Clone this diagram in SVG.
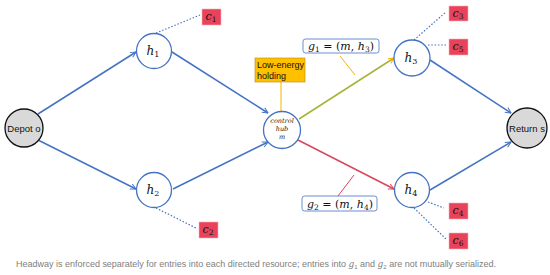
<svg xmlns="http://www.w3.org/2000/svg" width="550" height="275" viewBox="0 0 550 275">
<style>
.node{fill:#fff;stroke:#4472C4;stroke-width:1.3}
.term{fill:#d9d9d9;stroke:#111;stroke-width:1.3}
.edge{stroke:#4472C4;stroke-width:1.5;fill:none}
.dot{stroke:#4472C4;stroke-width:1.2;stroke-dasharray:1.5 1.8;fill:none}
.math{font-family:"DejaVu Serif","Liberation Serif",serif;font-style:italic;fill:#111}
.sans{font-family:"Liberation Sans",Arial,sans-serif}
.cbox{fill:#e8435a;stroke:#f4b0b8;stroke-width:0.6}
.cap{font-family:"Liberation Sans",Arial,sans-serif;fill:#808080}
.capm{font-family:"DejaVu Serif","Liberation Serif",serif;font-style:italic;fill:#808080}
</style>
<defs>
<marker id="ab" viewBox="0 0 10 10" refX="9" refY="5" markerWidth="7" markerHeight="7" orient="auto" markerUnits="userSpaceOnUse"><path d="M1,1 L9,5 L1,9" fill="none" stroke="#4472C4" stroke-width="1.4"/></marker>
<marker id="ay" viewBox="0 0 10 10" refX="9" refY="5" markerWidth="7" markerHeight="7" orient="auto" markerUnits="userSpaceOnUse"><path d="M1,1 L9,5 L1,9" fill="none" stroke="#f0b400" stroke-width="1.4"/></marker>
<marker id="ar" viewBox="0 0 10 10" refX="9" refY="5" markerWidth="7" markerHeight="7" orient="auto" markerUnits="userSpaceOnUse"><path d="M1,1 L9,5 L1,9" fill="none" stroke="#e0405a" stroke-width="1.4"/></marker>
</defs>
<g id="connectors">
<line class="edge" x1="38" y1="114" x2="136" y2="52" marker-end="url(#ab)"/>
<line class="edge" x1="172" y1="52" x2="268" y2="113" marker-end="url(#ab)"/>
<line class="edge" x1="38" y1="140" x2="136" y2="189" marker-end="url(#ab)"/>
<line class="edge" x1="173" y1="189" x2="268" y2="142" marker-end="url(#ab)"/>
<line x1="299" y1="119" x2="394" y2="58" stroke="#a8b43a" stroke-width="1.6" marker-end="url(#ay)"/>
<line x1="298" y1="140" x2="394" y2="189" stroke="#d9485f" stroke-width="1.6" marker-end="url(#ar)"/>
<line class="edge" x1="430" y1="60" x2="511" y2="113" marker-end="url(#ab)"/>
<line class="edge" x1="430" y1="190" x2="511" y2="142" marker-end="url(#ab)"/>
<line class="dot" x1="156" y1="33" x2="200" y2="15"/>
<line class="dot" x1="156" y1="208" x2="196" y2="228"/>
<line class="dot" x1="414" y1="40" x2="446" y2="12"/>
<line class="dot" x1="428" y1="45" x2="447" y2="45"/>
<line class="dot" x1="428" y1="202" x2="444" y2="208"/>
<line class="dot" x1="414" y1="208" x2="446" y2="239"/>
<line x1="281" y1="82" x2="281" y2="111" stroke="#f5b400" stroke-width="1"/>
<line x1="340" y1="56" x2="355" y2="75" stroke="#f5b400" stroke-width="1"/>
<line x1="338" y1="196" x2="354" y2="175" stroke="#e0405a" stroke-width="1"/>
</g>
<g id="depot"><circle class="term" cx="24" cy="128" r="19"/><text class="sans" x="24" y="131.5" font-size="9.5" text-anchor="middle" fill="#111">Depot o</text></g>
<g id="return"><circle class="term" cx="527" cy="128" r="20"/><text class="sans" x="527" y="131.5" font-size="9.5" text-anchor="middle" fill="#111">Return s</text></g>
<g id="h1"><circle class="node" cx="154" cy="51" r="17.5"/><text class="math" x="153" y="55" font-size="12" text-anchor="middle">h<tspan font-size="8" dy="2" font-style="normal">1</tspan></text></g>
<g id="h2"><circle class="node" cx="154" cy="190" r="17.5"/><text class="math" x="153" y="194" font-size="12" text-anchor="middle">h<tspan font-size="8" dy="2" font-style="normal">2</tspan></text></g>
<g id="h3"><circle class="node" cx="412" cy="58" r="18"/><text class="math" x="411" y="62" font-size="12" text-anchor="middle">h<tspan font-size="8" dy="2" font-style="normal">3</tspan></text></g>
<g id="h4"><circle class="node" cx="412" cy="190" r="17.5"/><text class="math" x="411" y="194" font-size="12" text-anchor="middle">h<tspan font-size="8" dy="2" font-style="normal">4</tspan></text></g>
<g id="hub"><circle class="node" cx="282" cy="130" r="18.5"/>
<text class="math" font-size="6.5" text-anchor="middle" style="fill:#222"><tspan x="282" y="122.5">control</tspan><tspan x="282" y="130.5">hub</tspan><tspan x="282" y="138.5">m</tspan></text></g>
<g id="holding"><rect x="255" y="58" width="50" height="24" fill="#ffc000" stroke="#b8860b" stroke-width="0.6"/>
<text class="sans" font-size="9" fill="#111"><tspan x="257" y="68">Low-energy</tspan><tspan x="257" y="78.5">holding</tspan></text></g>
<g id="g1"><rect x="303" y="39" width="76" height="14" rx="2.5" fill="#fff" stroke="#4472C4" stroke-width="0.8"/>
<text class="math" x="341" y="50" font-size="11" text-anchor="middle">g<tspan font-size="7.5" dy="2" font-style="normal">1</tspan><tspan dy="-2" font-style="normal"> = (</tspan>m<tspan font-style="normal">, </tspan>h<tspan font-size="7.5" dy="2" font-style="normal">3</tspan><tspan dy="-2" font-style="normal">)</tspan></text></g>
<g id="g2"><rect x="302" y="196" width="75" height="15" rx="2.5" fill="#fff" stroke="#4472C4" stroke-width="0.8"/>
<text class="math" x="340" y="207.5" font-size="11" text-anchor="middle">g<tspan font-size="7.5" dy="2" font-style="normal">2</tspan><tspan dy="-2" font-style="normal"> = (</tspan>m<tspan font-style="normal">, </tspan>h<tspan font-size="7.5" dy="2" font-style="normal">4</tspan><tspan dy="-2" font-style="normal">)</tspan></text></g>
<g id="c1"><rect class="cbox" x="202" y="9" width="19" height="16"/><text class="math" x="211" y="20" font-size="11" text-anchor="middle">c<tspan font-size="7.5" dy="2" font-style="normal">1</tspan></text></g>
<g id="c2"><rect class="cbox" x="199" y="222" width="19" height="16"/><text class="math" x="208" y="233" font-size="11" text-anchor="middle">c<tspan font-size="7.5" dy="2" font-style="normal">2</tspan></text></g>
<g id="c3"><rect class="cbox" x="449" y="6" width="19" height="15"/><text class="math" x="458" y="16.5" font-size="11" text-anchor="middle">c<tspan font-size="7.5" dy="2" font-style="normal">3</tspan></text></g>
<g id="c5"><rect class="cbox" x="449" y="39" width="19" height="16"/><text class="math" x="458" y="50" font-size="11" text-anchor="middle">c<tspan font-size="7.5" dy="2" font-style="normal">5</tspan></text></g>
<g id="c4"><rect class="cbox" x="449" y="203" width="19" height="16"/><text class="math" x="458" y="214" font-size="11" text-anchor="middle">c<tspan font-size="7.5" dy="2" font-style="normal">4</tspan></text></g>
<g id="c6"><rect class="cbox" x="449" y="233" width="19" height="16"/><text class="math" x="458" y="244" font-size="11" text-anchor="middle">c<tspan font-size="7.5" dy="2" font-style="normal">6</tspan></text></g>
<g id="caption"><text class="cap" x="16" y="267" font-size="9" textLength="480" lengthAdjust="spacing">Headway is enforced separately for entries into each directed resource; entries into <tspan class="capm">g</tspan><tspan font-size="6" dy="1.5">1</tspan><tspan dy="-1.5"> and </tspan><tspan class="capm">g</tspan><tspan font-size="6" dy="1.5">2</tspan><tspan dy="-1.5"> are not mutually serialized.</tspan></text></g>
</svg>
